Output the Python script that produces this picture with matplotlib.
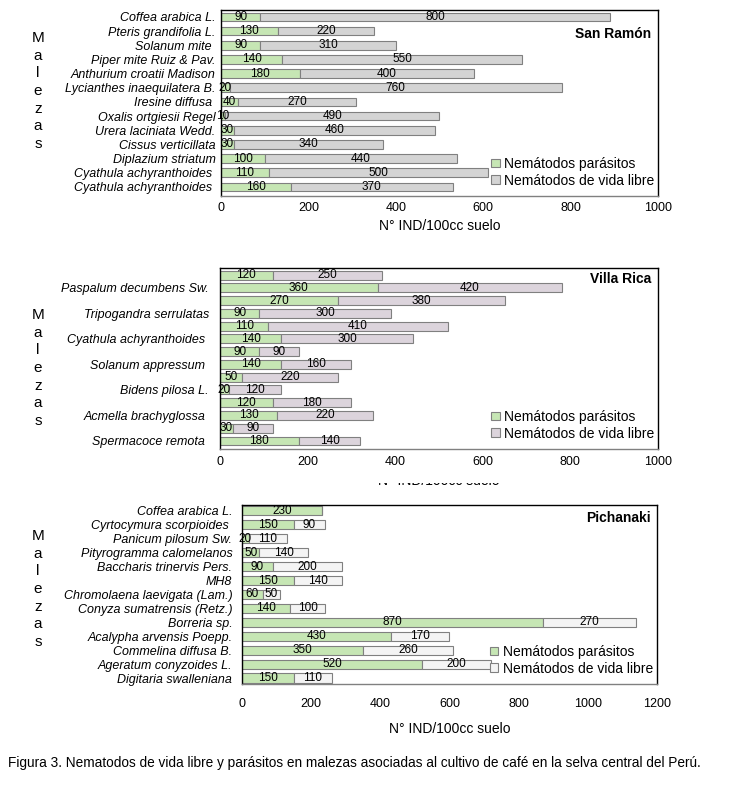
import numpy as np
import matplotlib
matplotlib.use('Agg')
import matplotlib.pyplot as plt
from matplotlib.patches import Rectangle

plt.rcParams['font.family'] = ['Liberation Sans', 'DejaVu Sans']

# San Ramón
sr_names = ['Coffea arabica L.', 'Pteris grandifolia L.', 'Solanum mite ',
            'Piper mite Ruiz & Pav.', 'Anthurium croatii Madison',
            'Lycianthes inaequilatera B.', 'Iresine diffusa ',
            'Oxalis ortgiesii Regel', 'Urera laciniata Wedd.',
            'Cissus verticillata', 'Diplazium striatum',
            'Cyathula achyranthoides ', 'Cyathula achyranthoides ']
sr_par = [90, 130, 90, 140, 180, 20, 40, 10, 30, 30, 100, 110, 160]
sr_lib = [800, 220, 310, 550, 400, 760, 270, 490, 460, 340, 440, 500, 370]

# Villa Rica (only every second bar carries a name)
vr_names = ['', 'Paspalum decumbens Sw.', '', 'Tripogandra serrulatas', '',
            'Cyathula achyranthoides ', '', 'Solanum appressum ', '',
            'Bidens pilosa L.', '', 'Acmella brachyglossa ', '',
            'Spermacoce remota ']
vr_par = [120, 360, 270, 90, 110, 140, 90, 140, 50, 20, 120, 130, 30, 180]
vr_lib = [250, 420, 380, 300, 410, 300, 90, 160, 220, 120, 180, 220, 90, 140]

# Pichanaki
pi_names = ['Coffea arabica L.', 'Cyrtocymura scorpioides ', 'Panicum pilosum Sw.',
            'Pityrogramma calomelanos', 'Baccharis trinervis Pers.', 'MH8',
            'Chromolaena laevigata (Lam.)', 'Conyza sumatrensis (Retz.)',
            'Borreria sp.', 'Acalypha arvensis Poepp.', 'Commelina diffusa B.',
            'Ageratum conyzoides L.', 'Digitaria swalleniana']
pi_par = [230, 150, 20, 50, 90, 150, 60, 140, 870, 430, 350, 520, 150]
pi_lib = [0, 90, 110, 140, 200, 140, 50, 100, 270, 170, 260, 200, 110]

GREEN = '#c6e6b4'
fig = plt.figure(figsize=(7.49, 7.96), dpi=100)


def panel(rect, names, par, lib, lib_color, title, title_y, xmax, step, height,
          pad, xpad, ypad):
    ax = fig.add_axes(rect)
    y = np.arange(len(names))
    ax.barh(y, par, height=height, color=GREEN, edgecolor='#808080', linewidth=0.8,
            label='Nemátodos parásitos')
    ax.barh(y, lib, left=par, height=height, color=lib_color, edgecolor='#808080',
            linewidth=0.8, label='Nemátodos de vida libre')
    for yi, p, l in zip(y, par, lib):
        ax.text(p / 2, yi, str(p), ha='center', va='center', fontsize=8.5)
        if l > 0:
            ax.text(p + l / 2, yi, str(l), ha='center', va='center', fontsize=8.5)
    ax.set_yticks(y)
    ax.set_yticklabels(names, fontstyle='italic', fontsize=8.5)
    ax.set_ylim(len(names) - 1 + pad[1], -pad[0])
    ax.set_xlim(0, xmax)
    ax.set_xticks(np.arange(0, xmax + 1, step))
    ax.tick_params(axis='both', length=0, labelsize=9)
    ax.tick_params(axis='x', pad=xpad)
    ax.tick_params(axis='y', pad=ypad)
    for s in ax.spines.values():
        s.set_linewidth(1.0)
    ax.spines['bottom'].set_color('#808080')
    ax.text(0.985, title_y, title, transform=ax.transAxes, ha='right', va='center',
            fontsize=10, fontweight='bold')
    ax.legend(loc='lower right', bbox_to_anchor=(1.01, 0.0), frameon=False,
              fontsize=10, handlelength=0.6, handleheight=0.6, handletextpad=0.3,
              labelspacing=0.2, borderaxespad=0.2)
    return ax


ax1 = panel([0.295, 0.7538, 0.5834, 0.2337], sr_names, sr_par, sr_lib, '#d4d4d4',
            'San Ramón', 0.87, 1000, 200, 0.62, (0.49, 0.64), 4, 4)
ax1.set_xlabel('N° IND/100cc suelo', fontsize=10, labelpad=4)

ax2 = panel([0.2937, 0.4359, 0.5848, 0.2274], vr_names, vr_par, vr_lib, '#dcd4dc',
            'Villa Rica', 0.94, 1000, 200, 0.7, (0.55, 0.63), 5, 8)
ax2.set_xlabel('N° IND/100cc suelo', fontsize=10, labelpad=4)

ax3 = panel([0.3231, 0.1407, 0.554, 0.2249], pi_names, pi_par, pi_lib, '#f4f4f4',
            'Pichanaki', 0.93, 1200, 200, 0.65, (0.43, 0.43), 10, 7)
ax3.set_xlabel('N° IND/100cc suelo', fontsize=10, labelpad=9)

# upper part of the middle x label is covered, as in the original figure
fig.patches.append(Rectangle((0.25, 1 - 483 / 796), 0.6, 14 / 796,
                             transform=fig.transFigure, facecolor='white',
                             edgecolor='none', zorder=10))

for yc in [91, 368, 589]:
    fig.text(38 / 749, 1 - yc / 796, '\n'.join('Malezas'), ha='center', va='center',
             fontsize=11, linespacing=1.33)

fig.text(8 / 749, 1 - 763 / 796,
         'Figura 3. Nematodos de vida libre y parásitos en malezas asociadas al '
         'cultivo de café en la selva central del Perú.',
         ha='left', va='center', fontsize=9.8)

fig.savefig('out.png', dpi=100)
